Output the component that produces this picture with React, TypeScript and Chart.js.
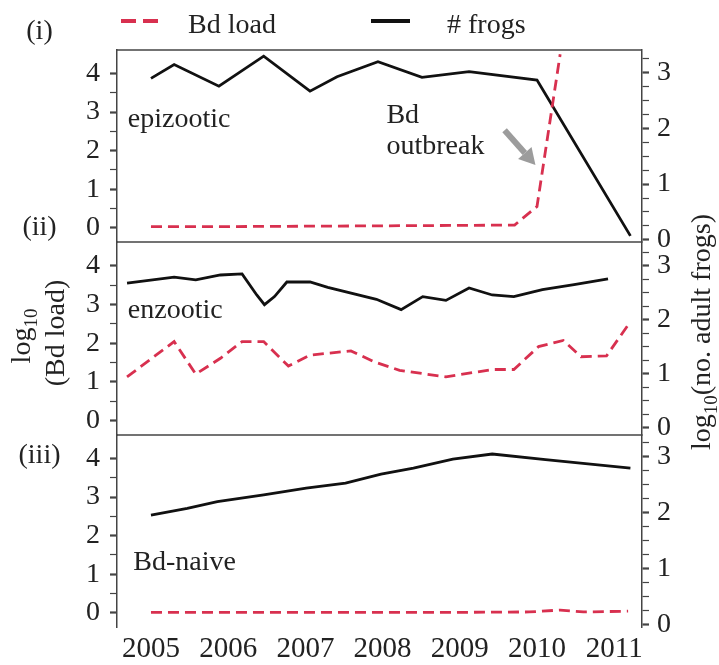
import React, { useEffect, useRef } from 'react';
import { Chart, registerables } from 'chart.js';

Chart.register(...registerables);

// ---------------- data ----------------
const yearTicks = [2005, 2006, 2007, 2008, 2009, 2010, 2011];

// (i) epizootic
const epiFrogYears = [2005.0, 2005.3, 2005.88, 2006.46, 2007.06, 2007.41, 2007.94, 2008.51, 2009.12, 2010.0, 2011.21];
const epiFrogs = [2.9, 3.15, 2.76, 3.3, 2.67, 2.93, 3.2, 2.92, 3.02, 2.87, 0.07];
const epiLoadYears = [2005.0, 2006.0, 2007.0, 2008.0, 2009.0, 2009.71, 2010.0, 2010.3];
const epiLoad = [0.03, 0.03, 0.04, 0.05, 0.06, 0.07, 0.55, 4.5];

// (ii) enzootic
const enzFrogYears = [2004.69, 2005.3, 2005.58, 2005.9, 2006.18, 2006.37, 2006.47, 2006.6, 2006.76, 2007.06, 2007.29, 2007.92, 2008.24, 2008.52, 2008.82, 2009.12, 2009.42, 2009.7, 2010.07, 2010.48, 2010.92];
const enzFrogs = [2.68, 2.79, 2.74, 2.83, 2.85, 2.46, 2.28, 2.43, 2.7, 2.7, 2.6, 2.38, 2.19, 2.43, 2.36, 2.59, 2.46, 2.43, 2.56, 2.65, 2.76];
const enzLoadYears = [2004.69, 2005.3, 2005.58, 2005.9, 2006.18, 2006.46, 2006.78, 2007.06, 2007.59, 2007.89, 2008.22, 2008.82, 2009.42, 2009.7, 2010.02, 2010.34, 2010.57, 2010.9, 2011.18];
const enzLoad = [1.13, 2.04, 1.2, 1.61, 2.04, 2.04, 1.41, 1.69, 1.8, 1.52, 1.3, 1.13, 1.32, 1.32, 1.91, 2.07, 1.65, 1.67, 2.47];

// (iii) Bd-naive
const naiveFrogYears = [2005.0, 2005.47, 2005.86, 2006.46, 2007.01, 2007.52, 2007.98, 2008.4, 2008.91, 2009.42, 2010.11, 2011.21];
const naiveFrogs = [1.96, 2.08, 2.2, 2.32, 2.44, 2.53, 2.69, 2.8, 2.96, 3.05, 2.95, 2.8];
const naiveLoadYears = [2005.0, 2006.0, 2007.0, 2008.0, 2009.0, 2009.9, 2010.3, 2010.6, 2011.18];
const naiveLoad = [0.01, 0.01, 0.01, 0.01, 0.01, 0.02, 0.07, 0.02, 0.04];

// ---------------- styles ----------------
const W = 719;
const H = 665;
const FAMILY = '"Liberation Serif", "Times New Roman", Times, serif';
const font = (s: number) => `${s}px ${FAMILY}`;
const TEXT = '#222222';
const AXIS = '#444444';
const RED = '#d8304f';
const BLACK = '#111111';
const X_MIN = 2004.56;
const X_MAX = 2011.36;
const L_MIN = -0.37;
const L_MAX = 4.61;

const zip = (xs: number[], ys: number[]) => xs.map((x, i) => ({ x, y: ys[i] }));

function drawRun(ctx: CanvasRenderingContext2D, cx: number, cy: number, parts: { text: string; size: number; dy: number }[]) {
  ctx.save();
  let total = 0;
  const widths = parts.map((p) => {
    ctx.font = font(p.size);
    const w = ctx.measureText(p.text).width;
    total += w;
    return w;
  });
  ctx.translate(cx, cy);
  ctx.rotate(-Math.PI / 2);
  ctx.textBaseline = 'middle';
  ctx.textAlign = 'left';
  ctx.fillStyle = TEXT;
  let x = -total / 2;
  parts.forEach((p, i) => {
    ctx.font = font(p.size);
    ctx.fillText(p.text, x, p.dy);
    x += widths[i];
  });
  ctx.restore();
}

function seg(ctx: CanvasRenderingContext2D, x0: number, y0: number, x1: number, y1: number) {
  ctx.beginPath();
  ctx.moveTo(x0, y0);
  ctx.lineTo(x1, y1);
  ctx.stroke();
}

const decorPlugin = {
  id: 'decor',
  afterDraw(chart: any, _args: any, opts: any) {
    const { ctx, chartArea, scales } = chart;
    const xs = scales.x;
    const yl = scales.yL;
    ctx.save();
    ctx.strokeStyle = AXIS;
    ctx.lineWidth = 1.5;
    if (opts.frameTop) seg(ctx, chartArea.left, chartArea.top, chartArea.right, chartArea.top);
    if (opts.frameBottom) seg(ctx, chartArea.left, chartArea.bottom, chartArea.right, chartArea.bottom);

    ctx.fillStyle = TEXT;
    ctx.font = font(28);
    ctx.textAlign = 'left';
    ctx.textBaseline = 'alphabetic';
    (opts.notes || []).forEach((n: any) => {
      ctx.fillText(n.text, xs.getPixelForValue(n.x), yl.getPixelForValue(n.y));
    });

    if (opts.arrow) {
      const a = opts.arrow;
      const x0 = xs.getPixelForValue(a.x0);
      const y0 = yl.getPixelForValue(a.y0);
      const x1 = xs.getPixelForValue(a.x1);
      const y1 = yl.getPixelForValue(a.y1);
      const ang = Math.atan2(y1 - y0, x1 - x0);
      const headL = 16;
      const headW = 9;
      const bx = x1 - headL * Math.cos(ang);
      const by = y1 - headL * Math.sin(ang);
      ctx.strokeStyle = '#9c9c9c';
      ctx.fillStyle = '#9c9c9c';
      ctx.lineWidth = 6;
      seg(ctx, x0, y0, bx, by);
      ctx.beginPath();
      ctx.moveTo(x1, y1);
      ctx.lineTo(bx + headW * Math.sin(ang), by - headW * Math.cos(ang));
      ctx.lineTo(bx - headW * Math.sin(ang), by + headW * Math.cos(ang));
      ctx.closePath();
      ctx.fill();
    }

    if (opts.global) {
      // legend
      ctx.lineWidth = 4;
      ctx.strokeStyle = RED;
      ctx.setLineDash([15, 7]);
      seg(ctx, 121, 21, 158, 21);
      ctx.setLineDash([]);
      ctx.strokeStyle = BLACK;
      seg(ctx, 371, 21, 410, 21);
      ctx.fillStyle = TEXT;
      ctx.font = font(28);
      ctx.textAlign = 'left';
      ctx.textBaseline = 'alphabetic';
      ctx.fillText('Bd load', 188, 33);
      ctx.fillText('# frogs', 447, 33);
      // panel labels
      ctx.textAlign = 'center';
      ctx.textBaseline = 'middle';
      ctx.fillText('(i)', 39.5, 32);
      ctx.fillText('(ii)', 39.5, 228);
      ctx.fillText('(iii)', 39.5, 456);
      // axis titles
      drawRun(ctx, 23, 336, [
        { text: 'log', size: 28, dy: 0 },
        { text: '10', size: 19, dy: 9 },
      ]);
      drawRun(ctx, 57, 333, [{ text: '(Bd load)', size: 28, dy: 0 }]);
      drawRun(ctx, 703, 332, [
        { text: 'log', size: 28, dy: 0 },
        { text: '10', size: 19, dy: 9 },
        { text: '(no. adult frogs)', size: 28, dy: 0 },
      ]);
    }
    ctx.restore();
  },
};

type Panel = {
  frogX: number[];
  frogY: number[];
  loadX: number[];
  loadY: number[];
  rMin: number;
  rMax: number;
  top: number;
  bottom: number;
  isBottom: boolean;
  decor: any;
};

const panels: Panel[] = [
  {
    frogX: epiFrogYears, frogY: epiFrogs, loadX: epiLoadYears, loadY: epiLoad,
    rMin: -0.04, rMax: 3.41, top: 50, bottom: 242, isBottom: false,
    decor: {
      frameTop: true, frameBottom: true,
      notes: [
        { text: 'epizootic', x: 2004.7, y: 2.61 },
        { text: 'Bd', x: 2008.05, y: 2.72 },
        { text: 'outbreak', x: 2008.05, y: 1.92 },
      ],
      arrow: { x0: 2009.58, y0: 2.53, x1: 2009.98, y1: 1.63 },
    },
  },
  {
    frogX: enzFrogYears, frogY: enzFrogs, loadX: enzLoadYears, loadY: enzLoad,
    rMin: -0.13, rMax: 3.44, top: 242, bottom: 435, isBottom: false,
    decor: { frameBottom: true, notes: [{ text: 'enzootic', x: 2004.7, y: 2.66 }] },
  },
  {
    frogX: naiveFrogYears, frogY: naiveFrogs, loadX: naiveLoadYears, loadY: naiveLoad,
    rMin: -0.04, rMax: 3.39, top: 435, bottom: 627, isBottom: true,
    decor: { global: true, notes: [{ text: 'Bd-naive', x: 2004.77, y: 1.11 }] },
  },
];

function makeConfig(p: Panel): any {
  const isInt = (v: number) => Math.abs(v - Math.round(v)) < 1e-6;
  return {
    type: 'line',
    data: {
      datasets: [
        {
          label: 'Bd load',
          data: zip(p.loadX, p.loadY),
          yAxisID: 'yL',
          borderColor: RED,
          borderDash: [11, 6],
          borderWidth: 2.8,
          pointRadius: 0,
          fill: false,
          tension: 0,
        },
        {
          label: '# frogs',
          data: zip(p.frogX, p.frogY),
          yAxisID: 'yR',
          borderColor: BLACK,
          borderWidth: 2.8,
          pointRadius: 0,
          fill: false,
          tension: 0,
        },
      ],
    },
    options: {
      animation: false,
      responsive: false,
      events: [],
      layout: { padding: { top: p.top, bottom: p.isBottom ? 0 : H - p.bottom, left: 0, right: 0 } },
      plugins: {
        legend: { display: false },
        tooltip: { enabled: false },
        decor: p.decor,
      },
      scales: {
        x: {
          type: 'linear',
          min: X_MIN,
          max: X_MAX,
          display: p.isBottom,
          grid: { display: false, drawTicks: false },
          border: { display: false },
          ticks: {
            stepSize: 1,
            includeBounds: false,
            autoSkip: false,
            maxRotation: 0,
            padding: 5,
            color: TEXT,
            font: { family: FAMILY, size: 29 },
            callback: (v: number) => String(v),
          },
          afterBuildTicks: (s: any) => {
            s.ticks = yearTicks.map((v) => ({ value: v }));
          },
          afterFit: (s: any) => {
            s.height = p.isBottom ? H - 627 : 0;
          },
        },
        yL: {
          type: 'linear',
          position: 'left',
          min: L_MIN,
          max: L_MAX,
          grid: {
            display: true,
            drawOnChartArea: false,
            drawTicks: true,
            tickLength: 7,
            tickColor: AXIS,
            tickWidth: (c: any) => (c.tick && isInt(c.tick.value) ? 2.2 : 1.2),
          },
          border: { display: true, color: AXIS, width: 1.5 },
          ticks: {
            stepSize: 0.5,
            includeBounds: false,
            autoSkip: false,
            maxTicksLimit: 100,
            padding: 10,
            color: TEXT,
            font: { family: FAMILY, size: 28 },
            callback: (v: number) => (isInt(v) ? String(Math.round(v)) : ''),
          },
          afterBuildTicks: (s: any) => {
            s.ticks = s.ticks.filter((t: any) => t.value >= -1e-6 && t.value <= 4 + 1e-6);
          },
          afterFit: (s: any) => {
            s.width = 117;
          },
        },
        yR: {
          type: 'linear',
          position: 'right',
          min: p.rMin,
          max: p.rMax,
          grid: {
            display: true,
            drawOnChartArea: false,
            drawTicks: true,
            tickLength: 7,
            tickColor: AXIS,
            tickWidth: (c: any) => (c.tick && isInt(c.tick.value) ? 2.2 : 1.2),
          },
          border: { display: true, color: AXIS, width: 1.5 },
          ticks: {
            stepSize: 0.25,
            includeBounds: false,
            autoSkip: false,
            maxTicksLimit: 100,
            padding: 8,
            color: TEXT,
            font: { family: FAMILY, size: 28 },
            callback: (v: number) => (isInt(v) ? String(Math.round(v)) : ''),
          },
          afterBuildTicks: (s: any) => {
            s.ticks = s.ticks.filter((t: any) => t.value >= -1e-6 && t.value <= 3.25 + 1e-6);
          },
          afterFit: (s: any) => {
            s.width = W - 642;
          },
        },
      },
    },
    plugins: [decorPlugin],
  };
}

export default function App() {
  const r0 = useRef<HTMLCanvasElement>(null);
  const r1 = useRef<HTMLCanvasElement>(null);
  const r2 = useRef<HTMLCanvasElement>(null);

  useEffect(() => {
    const refs = [r0, r1, r2];
    const charts = panels.map((p, i) => new Chart(refs[i].current as HTMLCanvasElement, makeConfig(p)));
    return () => charts.forEach((c) => c.destroy());
  }, []);

  const cs: React.CSSProperties = { position: 'absolute', left: 0, top: 0, width: W, height: H };
  return (
    <div style={{ position: 'absolute', left: 0, top: 0, width: W, height: H, background: '#ffffff' }}>
      <canvas ref={r0} width={W} height={H} style={cs} />
      <canvas ref={r1} width={W} height={H} style={cs} />
      <canvas ref={r2} width={W} height={H} style={cs} />
    </div>
  );
}
